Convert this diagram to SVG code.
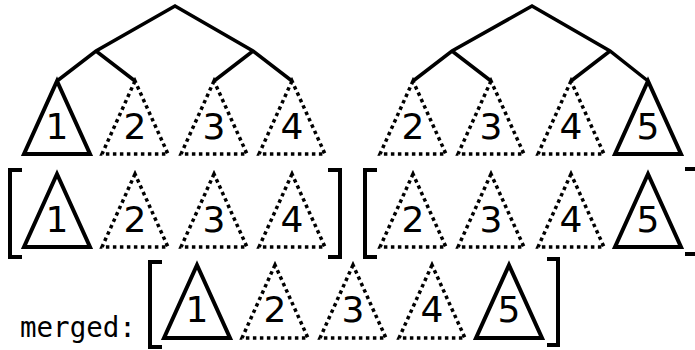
<svg xmlns="http://www.w3.org/2000/svg" xmlns:xlink="http://www.w3.org/1999/xlink" width="695" height="350" viewBox="0 0 695 350">
<style>
.edge{fill:none;stroke:#000;stroke-width:3.5;stroke-linejoin:miter;stroke-linecap:butt}
.solid{fill:none;stroke:#000;stroke-width:4;stroke-linejoin:miter}
.dot{fill:none;stroke:#000;stroke-width:3.5;stroke-dasharray:3.5 3.5}
.br{fill:none;stroke:#000;stroke-width:4;stroke-linecap:butt}
.lbl{font-family:"DejaVu Sans",sans-serif;font-size:36px;text-anchor:middle;fill:#000}
.mono{font-family:"DejaVu Sans Mono",monospace;font-size:27.5px;fill:#000}
</style>
<defs>
<path id="tri" d="M0,0 L-33,73 L33,73 Z"/>
</defs>
<g id="connectors">
<path class="edge" d="M57,81 L96,51 L175,6 L253,51 L292,81 M96,51 L135,81 M253,51 L214,81"/>
<path class="edge" d="M413,81 L452,51 L532,6 L610,51 L648,81 M452,51 L491,81 M610,51 L571,81"/>
</g>
<g id="tree1-leaf1"><use xlink:href="#tri" class="solid" x="57" y="81"/><text class="lbl" x="57" y="139">1</text></g>
<g id="tree1-leaf2"><use xlink:href="#tri" class="dot" x="135" y="81"/><text class="lbl" x="135" y="139">2</text></g>
<g id="tree1-leaf3"><use xlink:href="#tri" class="dot" x="214" y="81"/><text class="lbl" x="214" y="139">3</text></g>
<g id="tree1-leaf4"><use xlink:href="#tri" class="dot" x="292" y="81"/><text class="lbl" x="292" y="139">4</text></g>
<g id="tree2-leaf2"><use xlink:href="#tri" class="dot" x="413" y="81"/><text class="lbl" x="413" y="139">2</text></g>
<g id="tree2-leaf3"><use xlink:href="#tri" class="dot" x="491" y="81"/><text class="lbl" x="491" y="139">3</text></g>
<g id="tree2-leaf4"><use xlink:href="#tri" class="dot" x="571" y="81"/><text class="lbl" x="571" y="139">4</text></g>
<g id="tree2-leaf5"><use xlink:href="#tri" class="solid" x="648" y="81"/><text class="lbl" x="648" y="139">5</text></g>
<g id="list1">
<path class="br" d="M22,170 L10,170 L10,257 L22,257"/>
<path class="br" d="M328,170 L340,170 L340,257 L328,257"/>
<use xlink:href="#tri" class="solid" x="57" y="174"/><text class="lbl" x="57" y="232">1</text>
<use xlink:href="#tri" class="dot" x="135" y="174"/><text class="lbl" x="135" y="232">2</text>
<use xlink:href="#tri" class="dot" x="214" y="174"/><text class="lbl" x="214" y="232">3</text>
<use xlink:href="#tri" class="dot" x="292" y="174"/><text class="lbl" x="292" y="232">4</text>
</g>
<g id="list2">
<path class="br" d="M377,170 L365,170 L365,257 L377,257"/>
<path class="br" d="M685,169 L697,169 L697,254 L685,254"/>
<use xlink:href="#tri" class="dot" x="413" y="174"/><text class="lbl" x="413" y="232">2</text>
<use xlink:href="#tri" class="dot" x="491" y="174"/><text class="lbl" x="491" y="232">3</text>
<use xlink:href="#tri" class="dot" x="571" y="174"/><text class="lbl" x="571" y="232">4</text>
<use xlink:href="#tri" class="solid" x="648" y="174"/><text class="lbl" x="648" y="232">5</text>
</g>
<g id="merged">
<text class="mono" x="20" y="337">merged:</text>
<path class="br" d="M162,262 L150,262 L150,347 L162,347"/>
<path class="br" d="M547,259 L558,259 L558,345 L547,345"/>
<use xlink:href="#tri" class="solid" x="197" y="265"/><text class="lbl" x="197" y="322">1</text>
<use xlink:href="#tri" class="dot" x="275" y="265"/><text class="lbl" x="275" y="322">2</text>
<use xlink:href="#tri" class="dot" x="353" y="265"/><text class="lbl" x="353" y="322">3</text>
<use xlink:href="#tri" class="dot" x="432" y="265"/><text class="lbl" x="432" y="322">4</text>
<use xlink:href="#tri" class="solid" x="509" y="265"/><text class="lbl" x="509" y="322">5</text>
</g>
</svg>
